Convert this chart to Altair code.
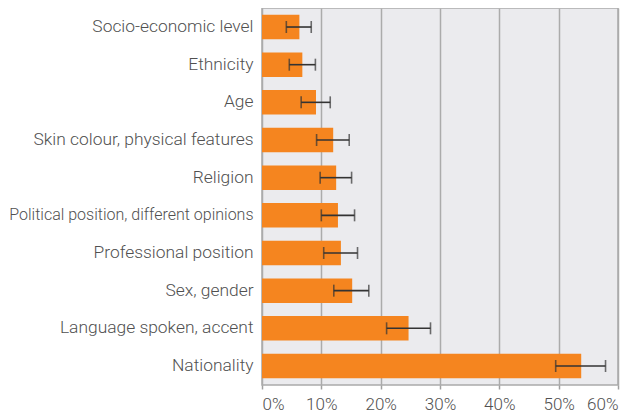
import altair as alt
import pandas as pd

categories = [
    "Socio-economic level",
    "Ethnicity",
    "Age",
    "Skin colour, physical features",
    "Religion",
    "Political position, different opinions",
    "Professional position",
    "Sex, gender",
    "Language spoken, accent",
    "Nationality",
]
values = [6.3, 6.8, 9.1, 12.0, 12.5, 12.8, 13.3, 15.2, 24.7, 53.8]
err_low = [4.1, 4.6, 6.6, 9.2, 9.8, 10.0, 10.4, 12.1, 21.0, 49.5]
err_high = [8.3, 9.0, 11.5, 14.7, 15.1, 15.6, 16.1, 18.0, 28.4, 57.9]

df = pd.DataFrame({"cat": categories, "val": values, "lo": err_low, "hi": err_high})

FONT = "Roboto"
ycat = alt.Y(
    "cat:N",
    sort=categories,
    title=None,
    scale=alt.Scale(paddingInner=0.35, paddingOuter=0.18),
    axis=alt.Axis(
        ticks=False,
        domain=False,
        labelFont=FONT,
        labelFontSize={
            "condition": {"test": "length(datum.value) > 32", "value": 16},
            "value": 17.4,
        },
        labelFontWeight=300,
        labelColor="#505050",
        labelPadding=9,
        labelLimit=400,
    ),
)

xaxis = alt.Axis(
    values=list(range(0, 61, 5)),
    labelExpr="datum.value % 10 == 0 ? datum.value + '%' : ''",
    labelOverlap=False,
    labelFont=FONT,
    labelFontSize=17,
    labelFontWeight=300,
    labelColor="#505050",
    labelPadding=7,
    domain=False,
    grid=True,
    gridColor="#ABABAB",
    gridWidth=1.5,
    gridOpacity={"condition": {"test": "datum.value % 10 != 0", "value": 0}, "value": 1},
    tickColor="#A0A0A0",
    tickWidth=1.5,
    tickSize={"condition": {"test": "datum.value % 10 != 0", "value": 2}, "value": 4},
    title=None,
)

xscale = alt.Scale(domain=[0, 60], nice=False)

bars = alt.Chart(df).mark_bar(color="#F5851F").encode(
    x=alt.X("val:Q", scale=xscale, axis=xaxis),
    y=ycat,
)

rules = alt.Chart(df).mark_rule(color="#333333", strokeWidth=1.6).encode(
    x=alt.X("lo:Q", scale=xscale),
    x2="hi:Q",
    y=alt.Y("cat:N", sort=categories),
)

caps_lo = alt.Chart(df).mark_tick(color="#333333", thickness=1.6, size=12, orient="vertical").encode(
    x=alt.X("lo:Q", scale=xscale),
    y=alt.Y("cat:N", sort=categories),
)
caps_hi = alt.Chart(df).mark_tick(color="#333333", thickness=1.6, size=12, orient="vertical").encode(
    x=alt.X("hi:Q", scale=xscale),
    y=alt.Y("cat:N", sort=categories),
)

chart = (
    alt.layer(bars, rules, caps_lo, caps_hi)
    .properties(
        width=356,
        height=377,
        autosize=alt.AutoSizeParams(type="none"),
        padding={"left": 254, "top": 0, "right": 8, "bottom": 29},
        background="white",
    )
    .configure_view(fill="#EBEBEE", stroke="#AAAAAA", strokeWidth=1.5)
)

chart.save("out.html", embed_options={"renderer": "svg", "actions": False})
